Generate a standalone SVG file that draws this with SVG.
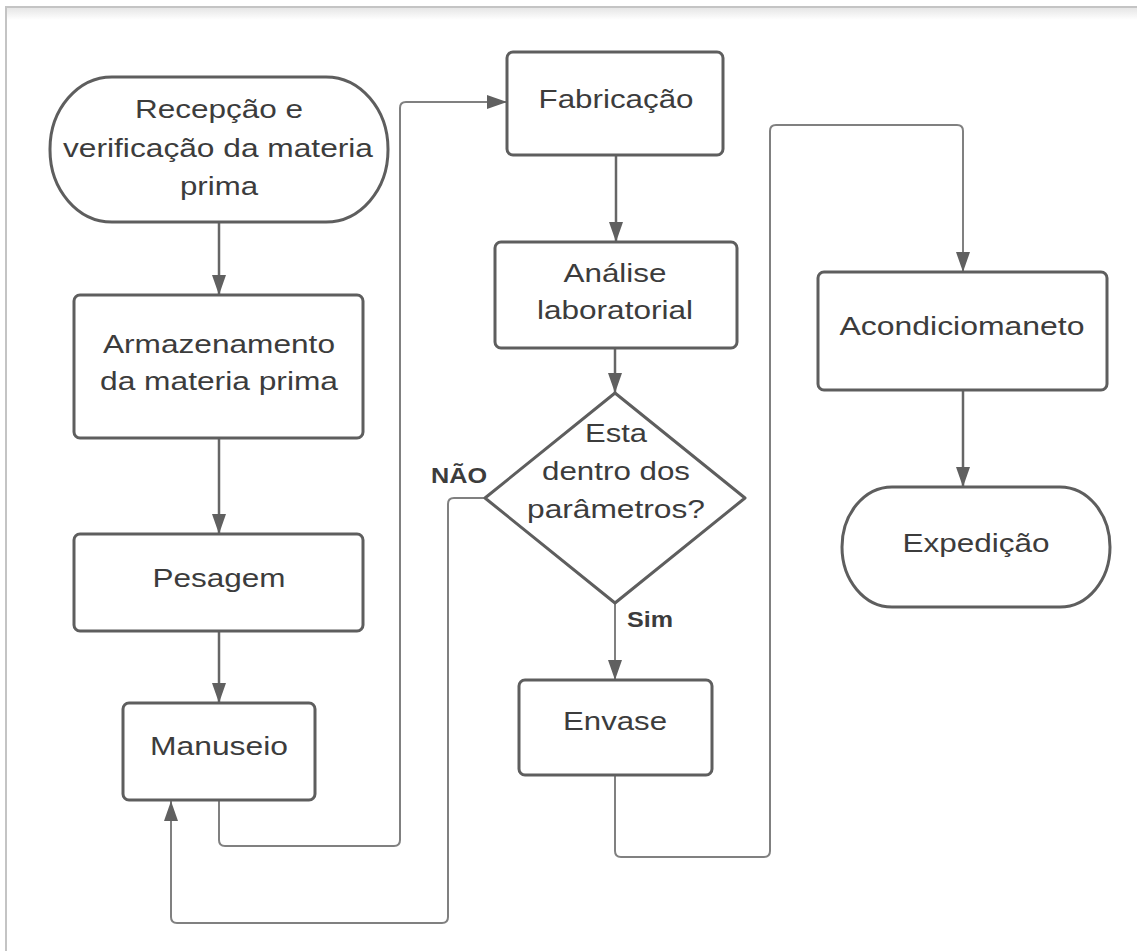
<svg xmlns="http://www.w3.org/2000/svg" width="1137" height="951" viewBox="0 0 1137 951">
<style>
.shape{fill:#fff;stroke:#5e5e5e;stroke-width:3}
.t{font-family:"Liberation Sans",Arial,sans-serif;font-size:26px;fill:#3c3c3c;text-anchor:middle}
.lbl{font-family:"Liberation Sans",Arial,sans-serif;font-size:22px;font-weight:bold;fill:#3c3c3c;text-anchor:middle}
.c{fill:none;stroke:#666;stroke-width:2.5}
.cl{fill:none;stroke:#808080;stroke-width:2}
</style>
<defs>
<marker id="ah" markerUnits="userSpaceOnUse" markerWidth="20" markerHeight="14" refX="20" refY="7" orient="auto">
<path d="M0,0 L20,7 L0,14 z" fill="#606060"/>
</marker>
<linearGradient id="sh" x1="0" y1="0" x2="0" y2="1">
<stop offset="0" stop-color="#e6e6e6"/>
<stop offset="1" stop-color="#ffffff"/>
</linearGradient>
</defs>
<rect x="0" y="0" width="1137" height="951" fill="#fff"/>
<rect x="7" y="8" width="1135" height="12" fill="url(#sh)"/>
<rect x="6" y="7" width="1140" height="950" fill="none" stroke="#c4c4c4" stroke-width="2"/>

<g id="connectors">
<path class="c" d="M219,223 V295" marker-end="url(#ah)"/>
<path class="c" d="M219,438 V534" marker-end="url(#ah)"/>
<path class="c" d="M219,631 V703" marker-end="url(#ah)"/>
<path class="cl" d="M219,800 V840 Q219,846 225,846 H394 Q400,846 400,840 V108 Q400,102 406,102 H507" marker-end="url(#ah)"/>
<path class="c" d="M616,155 V242" marker-end="url(#ah)"/>
<path class="c" d="M615,348 V393" marker-end="url(#ah)"/>
<path class="cl" d="M485,498 H454 Q448,498 448,504 V917 Q448,923 442,923 H177 Q171,923 171,917 V801" marker-end="url(#ah)"/>
<path class="cl" d="M615,603 V680" marker-end="url(#ah)"/>
<path class="cl" d="M615,775 V851 Q615,857 621,857 H764 Q770,857 770,851 V131 Q770,125 776,125 H957 Q963,125 963,131 V272" marker-end="url(#ah)"/>
<path class="c" d="M963,390 V487" marker-end="url(#ah)"/>
<text class="lbl" x="459" y="483" textLength="56" lengthAdjust="spacingAndGlyphs">NÃO</text>
<text class="lbl" x="650" y="627" textLength="46" lengthAdjust="spacingAndGlyphs">Sim</text>
</g>

<g id="recepcao">
<rect class="shape" x="50" y="77" width="338" height="145" rx="62" ry="72"/>
<text class="t" x="219" y="118" textLength="168" lengthAdjust="spacingAndGlyphs">Recepção e</text>
<text class="t" x="218" y="157" textLength="310" lengthAdjust="spacingAndGlyphs">verificação da materia</text>
<text class="t" x="219" y="195" textLength="78" lengthAdjust="spacingAndGlyphs">prima</text>
</g>

<g id="armazenamento">
<rect class="shape" x="74" y="295" width="289" height="143" rx="6"/>
<text class="t" x="219" y="353" textLength="232" lengthAdjust="spacingAndGlyphs">Armazenamento</text>
<text class="t" x="219" y="390" textLength="238" lengthAdjust="spacingAndGlyphs">da materia prima</text>
</g>

<g id="pesagem">
<rect class="shape" x="74" y="534" width="289" height="97" rx="6"/>
<text class="t" x="219" y="587" textLength="133" lengthAdjust="spacingAndGlyphs">Pesagem</text>
</g>

<g id="manuseio">
<rect class="shape" x="123" y="703" width="192" height="97" rx="6"/>
<text class="t" x="219" y="755" textLength="138" lengthAdjust="spacingAndGlyphs">Manuseio</text>
</g>

<g id="fabricacao">
<rect class="shape" x="507" y="52" width="216" height="103" rx="6"/>
<text class="t" x="616" y="108" textLength="155" lengthAdjust="spacingAndGlyphs">Fabricação</text>
</g>

<g id="analise">
<rect class="shape" x="495" y="242" width="242" height="106" rx="6"/>
<text class="t" x="615" y="282" textLength="103" lengthAdjust="spacingAndGlyphs">Análise</text>
<text class="t" x="615" y="319" textLength="156" lengthAdjust="spacingAndGlyphs">laboratorial</text>
</g>

<g id="decisao">
<path class="shape" d="M615,393 L745,498 L615,603 L485,498 Z" stroke-linejoin="round"/>
<text class="t" x="616" y="442" textLength="62" lengthAdjust="spacingAndGlyphs">Esta</text>
<text class="t" x="616" y="480" textLength="148" lengthAdjust="spacingAndGlyphs">dentro dos</text>
<text class="t" x="616" y="518" textLength="178" lengthAdjust="spacingAndGlyphs">parâmetros?</text>
</g>

<g id="envase">
<rect class="shape" x="519" y="680" width="193" height="95" rx="6"/>
<text class="t" x="615" y="730" textLength="104" lengthAdjust="spacingAndGlyphs">Envase</text>
</g>

<g id="acondicionamento">
<rect class="shape" x="818" y="272" width="289" height="118" rx="6"/>
<text class="t" x="962" y="335" textLength="245" lengthAdjust="spacingAndGlyphs">Acondiciomaneto</text>
</g>

<g id="expedicao">
<rect class="shape" x="842" y="487" width="268" height="120" rx="50" ry="60"/>
<text class="t" x="976" y="552" textLength="147" lengthAdjust="spacingAndGlyphs">Expedição</text>
</g>
</svg>
